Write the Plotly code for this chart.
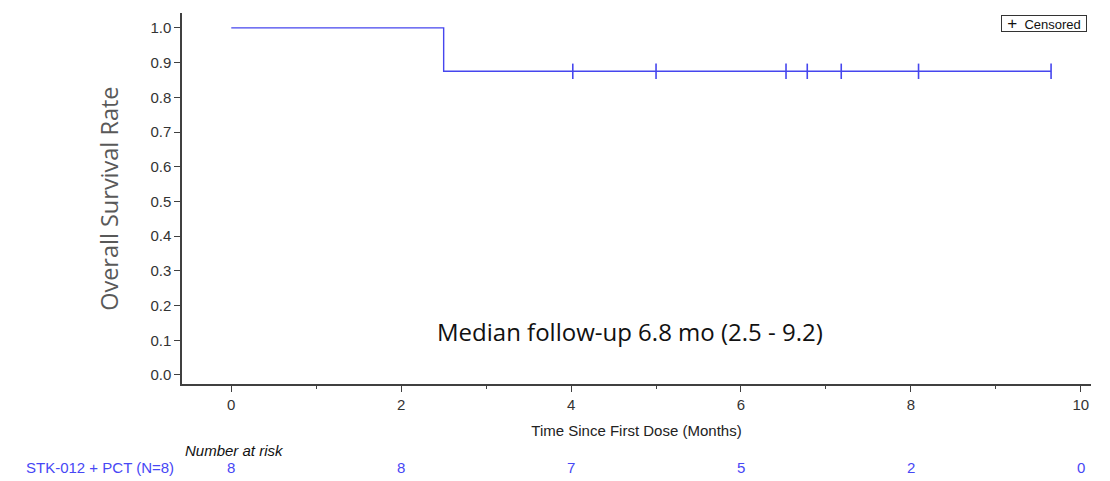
import plotly.graph_objects as go

# ---- data ----
step_times = [0, 2.5, 9.65]
step_surv = [1.0, 0.875, 0.875]
censor_times = [4.02, 5.0, 6.53, 6.78, 7.18, 8.09, 9.65]
censor_surv = [0.875, 0.875, 0.875, 0.875, 0.875, 0.875, 0.875]
risk_times = [0, 2, 4, 6, 8, 10]
at_risk = [8, 8, 7, 5, 2, 0]
group_label = "STK-012 + PCT (N=8)"
x_ticks = [0, 2, 4, 6, 8, 10]
y_ticks = [0.0, 0.1, 0.2, 0.3, 0.4, 0.5, 0.6, 0.7, 0.8, 0.9, 1.0]

BLUE = "#4646EE"
TXTBLUE = "#4747F5"
AX = "#404040"
SANS = "Liberation Sans, Arial"

fig = go.Figure()
fig.add_trace(go.Scatter(x=step_times, y=step_surv, mode="lines",
                         line=dict(color=BLUE, width=1.4, shape="hv"),
                         showlegend=False, hoverinfo="skip"))
fig.add_trace(go.Scatter(x=censor_times, y=censor_surv, mode="markers",
                         marker=dict(symbol="line-ns-open", size=11, color=BLUE,
                                     line=dict(color=BLUE, width=1.6)),
                         showlegend=False))

annotations = []
# median follow-up
annotations.append(dict(x=4.69, y=0.124, xref="x", yref="y",
                        text="Median follow-up 6.8 mo (2.5 - 9.2)",
                        showarrow=False,
                        font=dict(family="Open Sans", size=24, color="#111111")))
# legend-like box
annotations.append(dict(x=0.9956, y=0.9946, xref="paper", yref="paper",
                        xanchor="right", yanchor="top",
                        text="<span style='font-size:17px'>+</span>  Censored",
                        showarrow=False,
                        bordercolor="#333333", borderwidth=1, borderpad=0,
                        bgcolor="white", height=15, width=84,
                        font=dict(family=SANS, size=13, color="#111111")))
# number at risk
annotations.append(dict(x=-0.57, y=-0.178, xref="x", yref="paper",
                        xanchor="left", yanchor="middle",
                        text="<i>Number at risk</i>", showarrow=False,
                        font=dict(family=SANS, size=15, color="#111111")))
annotations.append(dict(x=-0.1738, y=-0.226, xref="paper", yref="paper",
                        xanchor="left", yanchor="middle",
                        text=group_label, showarrow=False,
                        font=dict(family=SANS, size=15, color=TXTBLUE)))
for t, n in zip(risk_times, at_risk):
    annotations.append(dict(x=t, y=-0.226, xref="x", yref="paper",
                            xanchor="center", yanchor="middle",
                            text=str(n), showarrow=False,
                            font=dict(family=SANS, size=15, color=TXTBLUE)))
# y axis title
annotations.append(dict(x=-0.081, y=0.5, xref="paper", yref="paper",
                        xanchor="center", yanchor="middle", textangle=-90,
                        text="Overall Survival Rate", showarrow=False,
                        font=dict(family="Open Sans", size=23.5, color="#595959")))

fig.update_layout(
    width=1110, height=481,
    margin=dict(l=182, r=19, t=13, b=97),
    paper_bgcolor="white", plot_bgcolor="white",
    font=dict(family=SANS, size=15, color="#333333"),
    xaxis=dict(range=[-0.58, 10.12], tickvals=x_ticks,
               ticks="outside", ticklen=6, tickwidth=1, tickcolor=AX,
               minor=dict(dtick=1, tick0=0, ticks="outside", ticklen=3, tickcolor=AX, tickwidth=1),
               showline=True, linecolor=AX, linewidth=1.5, showgrid=False, zeroline=False,
               title=dict(text="Time Since First Dose (Months)", standoff=14,
                          font=dict(size=15, color="#222222")),
               tickfont=dict(size=15, color="#333333")),
    yaxis=dict(range=[-0.026, 1.043], tickvals=y_ticks, tickformat=".1f",
               ticks="outside", ticklen=6, tickwidth=1, tickcolor=AX,
               showline=True, linecolor=AX, linewidth=1.5, showgrid=False, zeroline=False,
               tickfont=dict(size=15, color="#333333")),
    annotations=annotations,
    showlegend=False,
)

fig.write_html("out.html")
